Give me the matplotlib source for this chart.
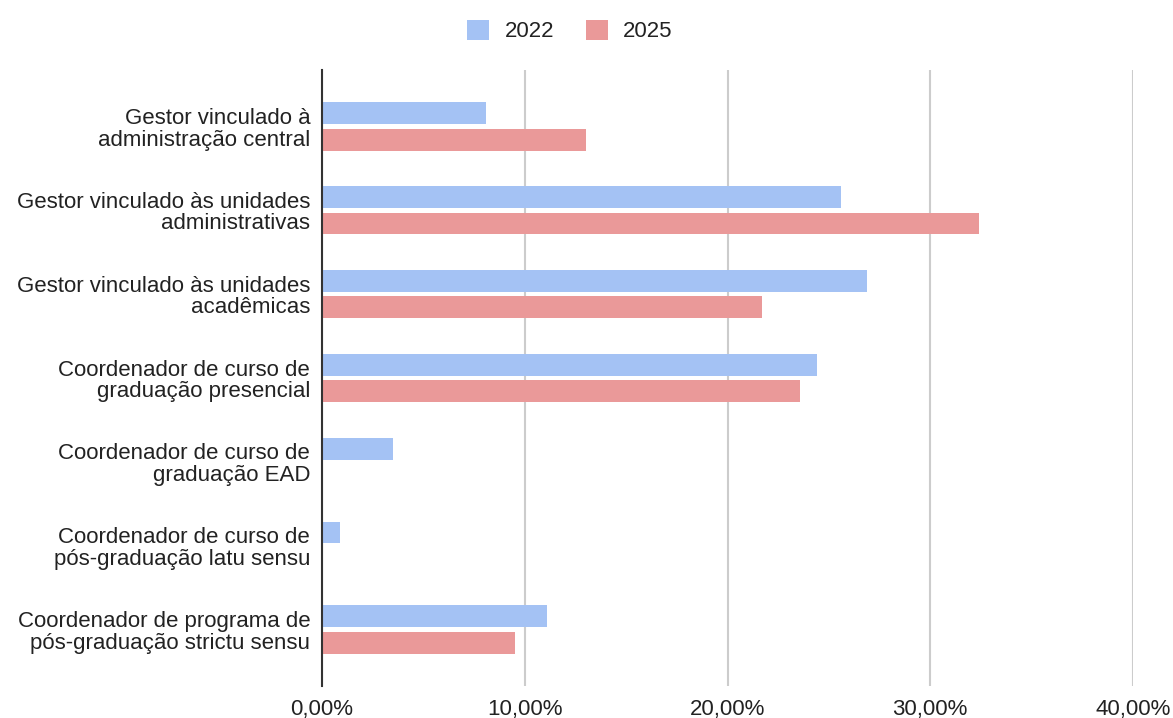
import matplotlib.pyplot as plt
import matplotlib.ticker as mticker
import numpy as np

plt.rcParams['font.family'] = ['Liberation Sans', 'DejaVu Sans']

# dados (% de respondentes)
categorias = [
    'Gestor vinculado à\nadministração central',
    'Gestor vinculado às unidades\nadministrativas',
    'Gestor vinculado às unidades\nacadêmicas',
    'Coordenador de curso de\ngraduação presencial',
    'Coordenador de curso de\ngraduação EAD',
    'Coordenador de curso de\npós-graduação latu sensu',
    'Coordenador de programa de\npós-graduação strictu sensu',
]
valores_2022 = [8.1, 25.6, 26.9, 24.4, 3.5, 0.9, 11.1]
valores_2025 = [13.0, 32.4, 21.7, 23.6, 0.0, 0.0, 9.5]
anos = ['2022', '2025']
cores = ['#a4c2f4', '#ea9999']

fig = plt.figure(figsize=(11.73, 7.18), dpi=100)
ax = fig.add_axes([322 / 1173, 1 - 686 / 718, (1133 - 322) / 1173, (686 - 70) / 718])

y = np.arange(len(categorias))
h = 0.262
off = 0.159
ax.barh(y - off, valores_2022, height=h, color=cores[0], label=anos[0], zorder=3)
ax.barh(y + off, valores_2025, height=h, color=cores[1], label=anos[1], zorder=3)

ax.set_xlim(0, 40)
ax.set_ylim(len(categorias) - 1 + 0.67, -0.67)
ax.set_xticks([0, 10, 20, 30, 40])
ax.xaxis.set_major_formatter(mticker.FuncFormatter(lambda v, p: f'{v:.2f}%'.replace('.', ',')))
ax.set_yticks(y)
ax.set_yticklabels(categorias, fontsize=16, color='#222222', linespacing=1.05)
ax.tick_params(axis='x', length=0, pad=9, labelsize=16, labelcolor='#222222')
ax.tick_params(axis='y', length=0, pad=8.5)

ax.grid(axis='x', color='#cccccc', linewidth=1.5, zorder=0)
for s in ['top', 'right', 'bottom']:
    ax.spines[s].set_visible(False)
ax.spines['left'].set_color('#333333')
ax.spines['left'].set_linewidth(1.5)
ax.spines['left'].set_zorder(4)

fig.legend(loc='center', bbox_to_anchor=(570 / 1173, 1 - 31 / 718), ncol=2,
           frameon=False, fontsize=16, handlelength=1.0, handleheight=1.0,
           handletextpad=0.7, columnspacing=1.4, labelcolor='#222222')

fig.savefig('out.png', dpi=100)
